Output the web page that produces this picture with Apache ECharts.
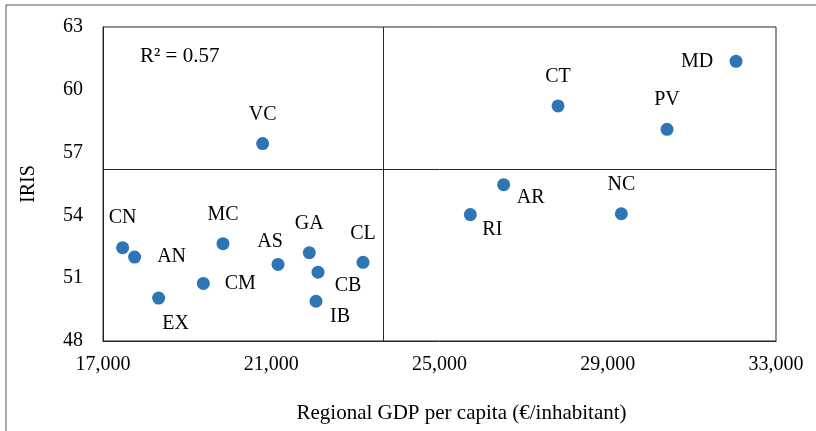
<!DOCTYPE html>
<html>
<head>
<meta charset="utf-8">
<script src="https://cdn.jsdelivr.net/npm/echarts@6/dist/echarts.min.js"></script>
<style>
  html, body { margin: 0; padding: 0; background: #fff; }
  #chart { width: 816px; height: 431px; }
</style>
</head>
<body>
<div id="chart"></div>
<script>
// regions and their values
var regions = ['CN', 'AN', 'EX', 'CM', 'MC', 'AS', 'GA', 'CB', 'IB', 'CL', 'VC', 'RI', 'AR', 'NC', 'CT', 'PV', 'MD']
var gdp = [17466, 17751, 18322, 19385, 19853, 21161, 21905, 22112, 22064, 23182, 20795, 25733, 26525, 29323, 27818, 30409, 32050]
var iris = [52.46, 52.01, 50.05, 50.75, 52.65, 51.66, 52.22, 51.29, 49.9, 51.76, 57.43, 54.04, 55.47, 54.08, 59.23, 58.11, 61.36]
var meanGdp = 23671
var meanIris = 56.2
var rSquared = 'R² = 0.57'

// where each label sits relative to its dot
var labelOffset = {
  CN: [0, -30], AN: [37, 0], EX: [17, 26], CM: [37, 0], MC: [0, -29],
  AS: [-8, -23], GA: [0, -29], CB: [30, 14], IB: [24, 16], CL: [0, -29],
  VC: [0, -29], RI: [22, 15], AR: [27, 13], NC: [0, -29], CT: [0, -29],
  PV: [0, -30], MD: [-39, 0]
}

var font = 'Liberation Serif'
var lineColor = '#262626'

var points = regions.map(function (r, i) {
  return {
    name: r,
    value: [gdp[i], iris[i]],
    label: { offset: labelOffset[r] }
  }
})

var chart = echarts.init(document.getElementById('chart'))
chart.setOption({
  animation: false,
  grid: {
    left: 103,
    right: 40,
    top: 27,
    bottom: 90,
    show: true,
    borderColor: lineColor,
    borderWidth: 1
  },
  graphic: [
    {
      type: 'rect',
      shape: { x: 6, y: 5, width: 830, height: 450 },
      style: { fill: 'none', stroke: '#555', lineWidth: 1 },
      silent: true
    },
    {
      type: 'text',
      left: 140,
      top: 46,
      style: { text: rSquared, font: '21px ' + font, fill: '#000' }
    }
  ],
  xAxis: {
    type: 'value',
    min: 17000,
    max: 33000,
    interval: 4000,
    name: 'Regional GDP per capita (€/inhabitant)',
    nameLocation: 'middle',
    nameGap: 62,
    nameTextStyle: { fontFamily: font, fontSize: 21, color: '#000', padding: [0, 0, 0, 44] },
    axisLine: { show: true, lineStyle: { color: lineColor } },
    axisTick: { show: false },
    splitLine: { show: false },
    axisLabel: {
      margin: 14,
      fontFamily: font,
      fontSize: 20,
      color: '#000',
      formatter: function (v) { return v.toLocaleString('en-US') }
    }
  },
  yAxis: {
    type: 'value',
    min: 48,
    max: 63,
    interval: 3,
    name: 'IRIS',
    nameLocation: 'middle',
    nameGap: 64,
    nameTextStyle: { fontFamily: font, fontSize: 20, color: '#000' },
    axisLine: { show: true, lineStyle: { color: lineColor } },
    axisTick: { show: false },
    splitLine: { show: false },
    axisLabel: { margin: 20, fontFamily: font, fontSize: 20, color: '#000' }
  },
  series: [{
    type: 'scatter',
    data: points,
    symbolSize: 13,
    itemStyle: { color: '#2E75B6', opacity: 1 },
    label: {
      show: true,
      position: 'inside',
      formatter: '{b}',
      fontFamily: font,
      fontSize: 20,
      color: '#000'
    },
    emphasis: { disabled: true },
    markLine: {
      silent: true,
      symbol: 'none',
      label: { show: false },
      lineStyle: { color: lineColor, type: 'solid', width: 1 },
      data: [{ xAxis: meanGdp }, { yAxis: meanIris }]
    }
  }]
})
</script>
</body>
</html>
